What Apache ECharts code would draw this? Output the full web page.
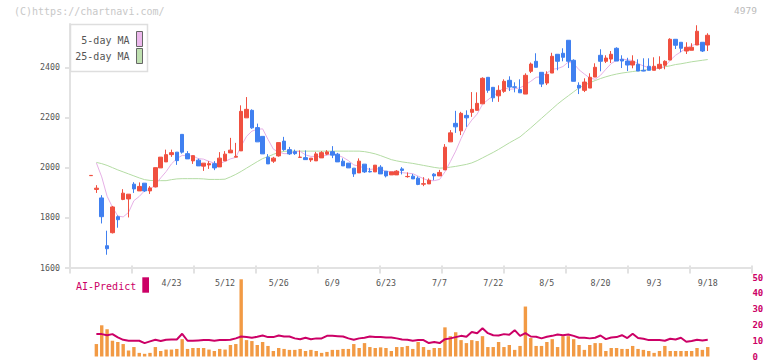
<!DOCTYPE html>
<html><head><meta charset="utf-8">
<script src="https://cdn.jsdelivr.net/npm/echarts@6/dist/echarts.min.js"></script>
<style>html,body{margin:0;padding:0;background:#fff}#c{width:772px;height:361px}</style>
</head><body><div id="c"></div>
<script>
const dates = ['4/2','4/3','4/4','4/7','4/8','4/9','4/10','4/11','4/14','4/15','4/16','4/17','4/18','4/21','4/22','4/23','4/24','4/25','4/28','4/30','5/1','5/2','5/7','5/8','5/9','5/12','5/13','5/14','5/15','5/16','5/19','5/20','5/21','5/22','5/23','5/26','5/27','5/28','5/29','5/30','6/2','6/3','6/4','6/5','6/6','6/9','6/10','6/11','6/12','6/13','6/16','6/17','6/18','6/19','6/20','6/23','6/24','6/25','6/26','6/27','6/30','7/1','7/2','7/3','7/4','7/7','7/8','7/9','7/10','7/11','7/14','7/15','7/16','7/17','7/18','7/22','7/23','7/24','7/25','7/28','7/29','7/30','7/31','8/1','8/4','8/5','8/6','8/7','8/8','8/12','8/13','8/14','8/15','8/18','8/19','8/20','8/21','8/22','8/25','8/26','8/27','8/28','8/29','9/1','9/2','9/3','9/4','9/5','9/8','9/9','9/10','9/11','9/12','9/16','9/17','9/18'];
const tickDates = ['4/23','5/12','5/26','6/9','6/23','7/7','7/22','8/5','8/20','9/3','9/18'];
const priceTicks = [1600,1800,2000,2200,2400];

const openP = [1967,1912,1878,1687,1739,1803,1872,1874,1933,1906,1937,1906,1922,1998,2022,2051,2061,2132,2055,2026,2029,2005,2010,2015,2002,2026,2058,2041,2066,2198,2228,2159,2124,2041,2025,2046,2105,2071,2063,2040,2039,2030,2026,2038,2053,2063,2053,2025,2017,1997,1978,2013,1984,1982,2001,1985,1970,1970,1994,1963,1965,1957,1933,1934,1973,1966,1990,2102,2176,2146,2208,2220,2228,2254,2360,2320,2286,2304,2348,2322,2311,2293,2384,2424,2380,2337,2377,2452,2456,2508,2428,2328,2308,2317,2361,2448,2424,2433,2476,2432,2425,2409,2412,2388,2404,2388,2396,2408,2429,2512,2500,2465,2468,2489,2500,2489];
const closeP = [1968,1917,1803,1675,1842,1791,1897,1893,1914,1924,1906,1918,1999,2041,2051,2059,2027,2061,2034,2047,2006,2017,2015,1998,2037,2053,2069,2044,2224,2232,2158,2102,2054,2014,2037,2099,2071,2054,2055,2041,2031,2037,2054,2059,2062,2049,2022,2006,1998,1974,2025,1982,1982,2009,1974,1966,1982,1985,1988,1964,1954,1932,1935,1949,1966,1980,2081,2138,2162,2216,2198,2232,2256,2356,2308,2278,2308,2344,2321,2320,2298,2368,2413,2400,2333,2372,2444,2424,2440,2424,2344,2317,2341,2360,2400,2424,2437,2452,2425,2425,2409,2424,2385,2385,2388,2404,2412,2424,2512,2488,2476,2480,2480,2544,2465,2528];
const lowP = [1967,1898,1776,1651,1736,1759,1869,1800,1898,1906,1902,1894,1920,1998,2022,2042,2010,2055,2034,2014,2006,1986,1994,1989,2002,2026,2058,2041,2066,2198,2154,2102,2054,2014,2018,2043,2066,2050,2050,2038,2031,2022,2026,2038,2049,2037,2022,2006,1998,1962,1978,1978,1980,1982,1974,1960,1970,1970,1972,1959,1954,1929,1925,1934,1949,1966,1990,2102,2138,2129,2162,2202,2228,2254,2298,2262,2262,2298,2305,2300,2298,2293,2377,2400,2321,2329,2377,2388,2424,2397,2344,2293,2301,2317,2361,2384,2417,2417,2425,2397,2385,2396,2385,2384,2388,2388,2391,2392,2429,2473,2460,2453,2468,2489,2461,2465];
const highP = [1968,1929,1889,1747,1846,1808,1913,1893,1941,1940,1937,1925,1999,2041,2071,2071,2061,2132,2065,2047,2035,2017,2025,2025,2061,2065,2118,2098,2248,2281,2232,2175,2124,2053,2042,2099,2122,2082,2071,2068,2068,2037,2062,2065,2069,2085,2058,2036,2017,1997,2036,2013,1998,2009,2009,1985,1982,1989,2001,1980,1974,1964,1961,1956,1977,1990,2093,2149,2226,2222,2228,2301,2300,2360,2360,2320,2328,2352,2364,2340,2352,2376,2419,2456,2380,2384,2458,2452,2476,2508,2432,2340,2356,2376,2416,2472,2448,2465,2480,2448,2438,2448,2432,2436,2436,2440,2444,2428,2516,2512,2500,2500,2496,2568,2500,2536];

const ma5 = [null,2018,1962,1885,1841,1806,1802,1820,1867,1884,1907,1911,1932,1958,1983,2014,2035,2048,2046,2046,2035,2033,2024,2017,2015,2024,2034,2040,2085,2124,2145,2152,2154,2112,2073,2061,2055,2055,2063,2064,2050,2044,2044,2044,2049,2052,2049,2040,2027,2010,2005,1997,1992,1994,1994,1983,1983,1983,1979,1977,1975,1965,1955,1947,1947,1952,1982,2023,2065,2115,2159,2189,2213,2252,2270,2286,2301,2319,2312,2314,2318,2330,2344,2360,2362,2377,2392,2395,2403,2421,2415,2390,2373,2357,2352,2368,2392,2415,2428,2433,2430,2427,2414,2406,2398,2397,2395,2403,2428,2448,2462,2476,2487,2494,2489,2499];
const ma25 = [null,2020,2015,2008,1999,1990,1982,1974,1966,1958,1951,1948,1947,1947,1947,1951,1954,1955,1955,1955,1955,1954,1952,1952,1952,1953,1962,1972,1984,1997,2010,2023,2035,2043,2052,2060,2064,2065,2065,2065,2065,2065,2065,2065,2065,2065,2065,2065,2065,2065,2065,2063,2059,2054,2047,2039,2031,2026,2022,2019,2016,2012,2008,2004,2000,1997,1998,2001,2004,2008,2012,2018,2027,2038,2049,2060,2072,2085,2098,2110,2122,2140,2158,2177,2196,2215,2234,2253,2270,2286,2302,2318,2328,2338,2347,2355,2362,2368,2373,2377,2380,2383,2386,2388,2391,2394,2398,2402,2406,2411,2414,2418,2422,2425,2428,2431];

const volume = [null,7.9,19.8,17.3,10,9.2,7.9,3.8,6,2.3,1.7,2.3,6,3.5,4.4,4.4,4.8,11,4.8,5.4,5.4,5.4,4.4,3.5,4.8,4.4,7.3,7.9,49,10.4,9.8,7.3,9.2,6.7,3.5,5.4,4.8,4.2,4.2,4.8,3.5,4.2,3.5,2.3,2.9,4.2,4.2,4.8,4.8,7.9,5.4,8.5,6,5.4,5.8,5.4,3.5,6,6,6.7,4.8,9.2,6,4.2,5.4,5.4,18.5,12.9,15.4,10.4,8.5,10.4,9.8,12.9,6,6,9.2,6,7.3,4.2,6.7,31.7,11.7,6.7,6.7,9.2,11,6,12.9,12.9,11,7.3,4.2,7.3,8.5,8.5,3.5,5.4,5.4,4.8,4.8,6.7,4.8,4.2,3.5,2.3,3.5,6.7,3.5,3.5,3.5,3.5,3.5,5.4,4.2,6];
const aiPredict = [null,14.2,14.2,13.5,14.2,12.1,10.6,10,10,10,8.5,9.6,10.6,9.8,10.6,10.8,10.8,14.4,10,10,10.2,10.4,10.4,10,10.4,10.4,10.6,11.5,12.7,12.3,11.9,12.5,13.3,12.3,12.3,13.3,12.7,12.7,11.5,11,11.9,11,11.5,11.5,13.1,13.1,12.9,12.7,11.5,10.6,11.5,11.9,12.7,12.3,12.4,12.1,12.1,11.5,10.8,10.6,10,10.4,10.4,8.5,9.2,8.5,11,11.5,12.3,13.1,12.5,15.6,14.8,17.9,14.8,13.5,13.3,14.2,13.8,16.7,13.1,14.8,12.7,12.5,11.5,12.5,13.1,14,13.5,14,13.1,11.9,11.9,11.5,11.9,13.3,11,12.1,12.3,13.5,11.7,14.4,11.7,11.3,10.4,10.4,10.4,10,11.3,10.8,11.9,9.4,9.8,10.6,10.2,10.6];

const MONO = '"DejaVu Sans Mono", "Liberation Mono", monospace';
const candles = dates.map((d, i) => [openP[i], closeP[i], lowP[i], highP[i]]);
const step = 5.363;
const cLeft = 88.32;
const cRight = 772 - (cLeft + dates.length * step);
const yMax = 2573;
const axisCol = '#e2e2e2';

const chart = echarts.init(document.getElementById('c'), null, {renderer: 'svg'});
chart.setOption({
  animation: false,
  backgroundColor: '#fff',
  grid: [
    {left: 70, right: 20, top: 24, bottom: 93.5},
    {left: cLeft, right: cRight, top: 24, bottom: 93.5},
    {left: cLeft, right: cRight, top: 277.7, bottom: 3.3}
  ],
  xAxis: [
    {gridIndex: 0, type: 'value', min: 0, max: 11, interval: 1, position: 'bottom',
     axisLine: {lineStyle: {color: axisCol, width: 2}},
     axisTick: {length: 6, lineStyle: {color: axisCol, width: 2}},
     axisLabel: {show: false}, splitLine: {show: false}},
    {gridIndex: 0, type: 'value', min: 0, max: 11, interval: 1, position: 'bottom',
     axisLine: {show: false},
     axisTick: {inside: true, length: 2, lineStyle: {color: axisCol, width: 2}},
     axisLabel: {show: false}, splitLine: {show: false}},
    {gridIndex: 1, type: 'category', data: dates, show: false},
    {gridIndex: 2, type: 'category', data: dates, position: 'top',
     axisLine: {show: false}, axisTick: {show: false},
     axisLabel: {inside: true, margin: 1.5, color: '#555', fontFamily: MONO, fontSize: 8.3,
       interval: (idx, val) => tickDates.indexOf(val) >= 0}}
  ],
  yAxis: [
    {gridIndex: 0, type: 'value', min: 1600, max: yMax,
     axisLine: {show: true, lineStyle: {color: axisCol, width: 2}},
     axisTick: {show: true, length: 5, customValues: priceTicks, lineStyle: {color: axisCol, width: 2}},
     axisLabel: {customValues: priceTicks, margin: 10, color: '#555', fontFamily: MONO, fontSize: 8.3,
       formatter: v => (priceTicks.indexOf(v) >= 0 ? String(v) : '')},
     splitLine: {show: false}},
    {gridIndex: 0, type: 'value', min: 1600, max: yMax,
     axisLine: {show: false},
     axisTick: {show: true, inside: true, length: 3, customValues: priceTicks, lineStyle: {color: axisCol, width: 2}},
     axisLabel: {show: false}, splitLine: {show: false}},
    {gridIndex: 1, type: 'value', min: 1600, max: yMax, show: false},
    {gridIndex: 2, type: 'value', min: 0, max: 50, interval: 10, position: 'right', offset: 38,
     axisLine: {show: false}, axisTick: {show: false}, splitLine: {show: false},
     axisLabel: {margin: 4, color: '#cc0066', fontFamily: MONO, fontSize: 9, fontWeight: 'bold'}}
  ],
  series: [
    {name: '25-day MA', type: 'line', xAxisIndex: 2, yAxisIndex: 2, data: ma25, symbol: 'none',
     lineStyle: {color: '#b4dca4', width: 1}, z: 1},
    {name: '5-day MA', type: 'line', xAxisIndex: 2, yAxisIndex: 2, data: ma5, symbol: 'none',
     lineStyle: {color: '#e6b0e6', width: 1}, z: 1},
    {name: 'price', type: 'candlestick', xAxisIndex: 2, yAxisIndex: 2, data: candles, barWidth: 4,
     itemStyle: {color: '#f05040', color0: '#4080f0', borderColor: '#f05040', borderColor0: '#4080f0', borderWidth: 1},
     z: 3},
    {name: 'volume', type: 'bar', xAxisIndex: 3, yAxisIndex: 3, data: volume, barWidth: 3.4,
     itemStyle: {color: '#f29a44'}},
    {name: 'AI-Predict', type: 'line', xAxisIndex: 3, yAxisIndex: 3, data: aiPredict, symbol: 'none',
     lineStyle: {color: '#cc0066', width: 2}, z: 4}
  ],
  graphic: [
    {type: 'text', left: 14, top: 6, z: 50, style: {text: '(C)https://chartnavi.com/', fill: '#c8c8c8', font: '10px ' + MONO}},
    {type: 'text', right: 15, top: 5.5, z: 50, style: {text: '4979', fill: '#bbbbbb', font: '9.5px ' + MONO}},
    {type: 'group', z: 100, children: [
      {type: 'rect', shape: {x: 70.5, y: 24.5, width: 77, height: 47}, style: {fill: '#fff', stroke: '#dedede', lineWidth: 1.5}, z: 100},
      {type: 'text', x: 129.5, y: 40.5, z: 101, style: {text: '5-day MA', fill: '#555', font: '10px ' + MONO, align: 'right', verticalAlign: 'middle'}},
      {type: 'rect', shape: {x: 136.5, y: 31.5, width: 6, height: 15}, style: {fill: '#ecb8ec', stroke: '#666', lineWidth: 1}, z: 101},
      {type: 'text', x: 129.5, y: 56.5, z: 101, style: {text: '25-day MA', fill: '#555', font: '10px ' + MONO, align: 'right', verticalAlign: 'middle'}},
      {type: 'rect', shape: {x: 136.5, y: 48.5, width: 6, height: 15}, style: {fill: '#bfe0b0', stroke: '#666', lineWidth: 1}, z: 101}
    ]},
    {type: 'text', x: 76, y: 286, z: 50, style: {text: 'AI-Predict', fill: '#cc0066', font: '10px ' + MONO, verticalAlign: 'middle'}},
    {type: 'rect', z: 50, shape: {x: 142.3, y: 277.3, width: 6.7, height: 15.4}, style: {fill: '#cc0066'}}
  ]
});
</script></body></html>
